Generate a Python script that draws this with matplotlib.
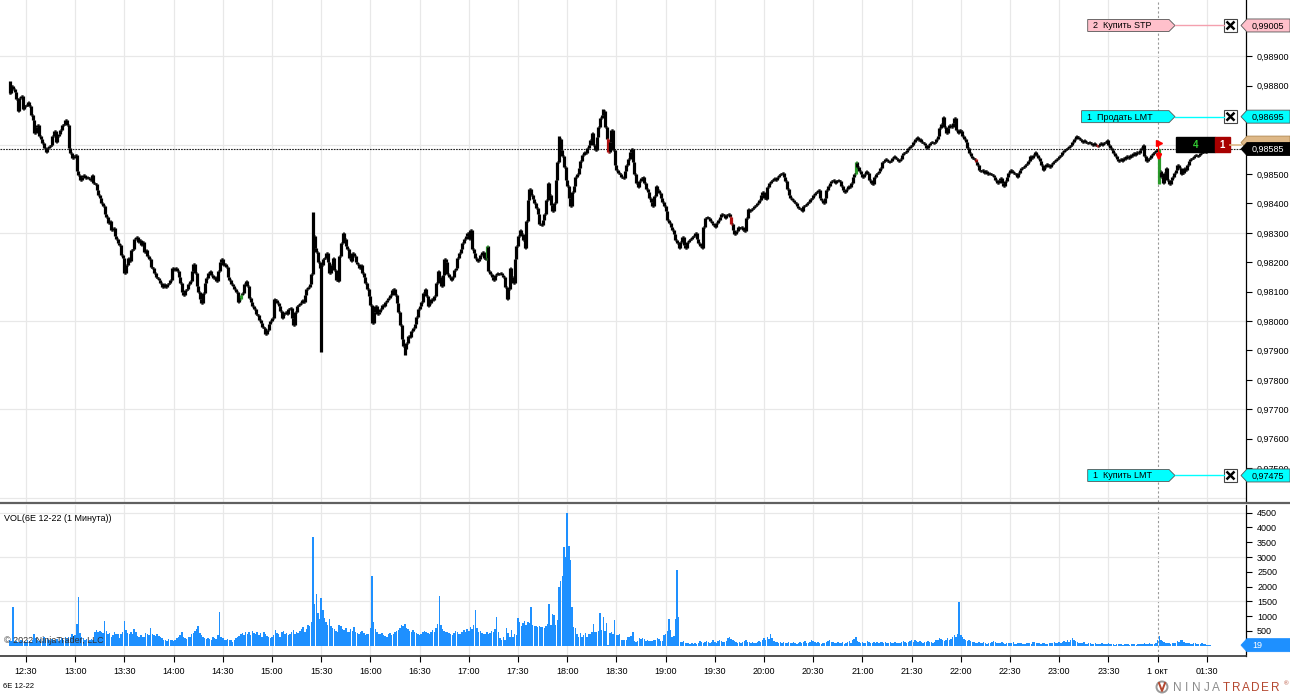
import numpy as np
import matplotlib
matplotlib.use("Agg")
import matplotlib.pyplot as plt
from matplotlib.patches import Polygon, Rectangle, Circle
from matplotlib.lines import Line2D

plt.rcParams['font.family'] = ['Liberation Sans', 'DejaVu Sans']

# 1-minute closes of 6E 12-22, in 1e-5 units, split by hour (first bar 12:20)
c_1220 = [98775, 98800, 98790, 98780, 98755, 98715, 98760, 98765, 98720, 98730,
          98735, 98745, 98730, 98700, 98685, 98640, 98660, 98665, 98630, 98620,
          98605, 98590, 98575, 98590, 98595, 98600, 98630, 98645, 98610, 98630,
          98635, 98650, 98665, 98670, 98685, 98665, 98590, 98570, 98555, 98560]
c_1300 = [98565, 98510, 98495, 98480, 98490, 98495, 98485, 98490, 98485, 98480,
          98495, 98470, 98465, 98445, 98430, 98420, 98400, 98390, 98365, 98355,
          98335, 98340, 98310, 98315, 98290, 98280, 98265, 98260, 98225, 98215,
          98165, 98190, 98215, 98205, 98240, 98245, 98280, 98285, 98270, 98275,
          98260, 98270, 98235, 98240, 98220, 98210, 98185, 98180, 98165, 98150,
          98145, 98140, 98130, 98115, 98125, 98115, 98125, 98130, 98140, 98180]
c_1400 = [98175, 98180, 98170, 98150, 98130, 98100, 98090, 98105, 98110, 98125,
          98135, 98170, 98195, 98165, 98120, 98100, 98075, 98060, 98095, 98130,
          98145, 98165, 98170, 98155, 98145, 98150, 98135, 98170, 98200, 98210,
          98190, 98195, 98185, 98150, 98140, 98125, 98120, 98110, 98100, 98065,
          98075, 98090, 98095, 98125, 98135, 98120, 98080, 98065, 98050, 98040,
          98025, 98020, 98005, 97995, 97980, 97975, 97955, 97970, 97990, 98000]
c_1500 = [98010, 98075, 98070, 98060, 98050, 98035, 98010, 98025, 98030, 98025,
          98040, 98045, 98010, 97985, 98030, 98050, 98055, 98060, 98070, 98065,
          98090, 98110, 98115, 98125, 98160, 98290, 98250, 98235, 98200, 98180,
          98190, 98210, 98215, 98230, 98200, 98165, 98190, 98215, 98175, 98140,
          98135, 98220, 98265, 98300, 98280, 98255, 98245, 98215, 98205, 98230,
          98220, 98200, 98195, 98180, 98190, 98165, 98150, 98130, 98110, 98085]
c_1600 = [98055, 97995, 98030, 98050, 98025, 98030, 98040, 98055, 98050, 98065,
          98070, 98080, 98090, 98105, 98110, 98090, 98060, 98030, 97985, 97940,
          97915, 97905, 97925, 97950, 97945, 97965, 97975, 97990, 98015, 98040,
          98050, 98065, 98095, 98110, 98085, 98050, 98060, 98075, 98070, 98085,
          98130, 98170, 98150, 98120, 98155, 98210, 98200, 98160, 98150, 98140,
          98150, 98175, 98180, 98215, 98230, 98245, 98265, 98280, 98290, 98300]
c_1700 = [98280, 98310, 98245, 98230, 98215, 98205, 98210, 98225, 98235, 98215,
          98210, 98255, 98170, 98160, 98150, 98140, 98155, 98165, 98160, 98165,
          98155, 98150, 98115, 98075, 98110, 98180, 98150, 98130, 98210, 98255,
          98290, 98310, 98295, 98275, 98250, 98340, 98410, 98450, 98430, 98415,
          98400, 98385, 98365, 98330, 98325, 98345, 98365, 98410, 98470, 98430,
          98395, 98375, 98400, 98480, 98540, 98620, 98580, 98560, 98525, 98480]
c_1800 = [98460, 98420, 98390, 98440, 98460, 98490, 98500, 98520, 98545, 98565,
          98575, 98570, 98590, 98600, 98615, 98640, 98600, 98580, 98625, 98660,
          98690, 98700, 98715, 98660, 98620, 98575, 98610, 98650, 98580, 98530,
          98515, 98505, 98500, 98490, 98485, 98510, 98530, 98550, 98575, 98585,
          98540, 98500, 98470, 98455, 98475, 98485, 98490, 98470, 98450, 98440,
          98420, 98405, 98390, 98425, 98460, 98445, 98435, 98420, 98405, 98390]
c_1900 = [98375, 98345, 98335, 98320, 98310, 98295, 98275, 98265, 98250, 98270,
          98285, 98260, 98250, 98270, 98275, 98280, 98285, 98290, 98300, 98280,
          98265, 98255, 98250, 98320, 98350, 98355, 98350, 98340, 98335, 98325,
          98320, 98335, 98345, 98355, 98365, 98360, 98350, 98360, 98365, 98355,
          98330, 98310, 98295, 98305, 98320, 98315, 98320, 98310, 98305, 98350,
          98380, 98375, 98380, 98385, 98390, 98395, 98400, 98410, 98430, 98440]
c_2000 = [98420, 98415, 98455, 98470, 98475, 98480, 98485, 98480, 98490, 98495,
          98500, 98505, 98490, 98475, 98450, 98430, 98420, 98410, 98405, 98400,
          98390, 98385, 98380, 98375, 98390, 98395, 98400, 98405, 98415, 98420,
          98430, 98435, 98440, 98445, 98420, 98410, 98400, 98420, 98445, 98460,
          98470, 98475, 98480, 98470, 98475, 98480, 98475, 98460, 98445, 98440,
          98450, 98460, 98455, 98470, 98490, 98500, 98540, 98525, 98510, 98500]
c_2100 = [98490, 98500, 98510, 98505, 98480, 98470, 98465, 98490, 98500, 98505,
          98510, 98520, 98540, 98545, 98550, 98545, 98540, 98545, 98555, 98560,
          98555, 98550, 98545, 98550, 98565, 98570, 98575, 98580, 98590, 98595,
          98600, 98610, 98620, 98625, 98615, 98620, 98610, 98605, 98600, 98590,
          98600, 98605, 98610, 98605, 98610, 98620, 98630, 98655, 98670, 98695,
          98660, 98640, 98655, 98665, 98660, 98675, 98690, 98650, 98640, 98650]
c_2200 = [98645, 98630, 98620, 98610, 98590, 98570, 98560, 98555, 98550, 98540,
          98530, 98515, 98510, 98515, 98505, 98510, 98500, 98505, 98500, 98495,
          98490, 98480, 98470, 98480, 98485, 98470, 98460, 98475, 98490, 98505,
          98515, 98510, 98505, 98500, 98490, 98505, 98515, 98520, 98525, 98530,
          98535, 98545, 98560, 98555, 98565, 98575, 98565, 98555, 98545, 98530,
          98515, 98525, 98535, 98530, 98525, 98535, 98540, 98545, 98550, 98555]
c_2300 = [98560, 98565, 98575, 98580, 98585, 98590, 98595, 98600, 98610, 98620,
          98630, 98625, 98620, 98615, 98610, 98615, 98610, 98605, 98610, 98605,
          98600, 98605, 98600, 98595, 98600, 98605, 98600, 98605, 98610, 98615,
          98600, 98590, 98580, 98570, 98560, 98550, 98545, 98550, 98545, 98555,
          98550, 98560, 98555, 98565, 98560, 98570, 98565, 98575, 98570, 98580,
          98590, 98600, 98560, 98545, 98550, 98555, 98565, 98570, 98575, 98580]
c_0100 = [98585, 98510, 98490, 98470, 98505, 98520, 98480, 98465, 98480, 98490,
          98505, 98515, 98530, 98520, 98500, 98505, 98520, 98515, 98530, 98545,
          98550, 98555, 98560, 98565, 98560, 98565, 98570, 98575, 98580, 98575,
          98580, 98585, 98585]

# 1-minute volume, same hourly split
v_1220 = [180, 150, 1320, 120, 160, 140, 130, 200, 170, 150, 120, 180, 160, 140, 210, 380, 250, 190, 160, 230,
          170, 300, 210, 260, 180, 150, 220, 190, 160, 240, 170, 200, 260, 210, 280, 230, 310, 290, 400, 330]
v_1300 = [350, 735, 1640, 420, 300, 250, 180, 220, 160, 200, 230, 190, 480, 520, 450, 500, 470, 430, 840, 500,
          380, 420, 300, 350, 470, 400, 380, 260, 410, 450, 820, 520, 420, 380, 450, 400, 560, 470, 330, 300,
          350, 280, 310, 420, 380, 350, 590, 400, 350, 320, 380, 340, 300, 260, 200, 180, 150, 220, 200, 180]
v_1400 = [160, 200, 250, 280, 350, 450, 300, 250, 220, 280, 300, 380, 420, 500, 560, 665, 420, 350, 280, 250,
          220, 260, 230, 200, 280, 250, 230, 350, 1140, 280, 250, 200, 180, 230, 210, 190, 120, 200, 250, 300,
          330, 380, 420, 360, 480, 400, 450, 360, 500, 420, 380, 460, 350, 420, 300, 480, 380, 320, 280, 250]
v_1500 = [280, 350, 530, 420, 380, 300, 450, 500, 380, 420, 350, 400, 480, 520, 380, 450, 420, 500, 560, 620,
          480, 550, 700, 650, 800, 3670, 1400, 1750, 1100, 900, 1600, 1200, 950, 800, 700, 900, 650, 600, 550, 500,
          480, 700, 650, 580, 520, 600, 480, 450, 550, 500, 620, 480, 420, 380, 450, 500, 420, 350, 400, 380]
v_1600 = [600, 2360, 800, 550, 450, 400, 380, 420, 350, 320, 300, 380, 420, 350, 400, 450, 500, 520, 600, 700,
          650, 750, 600, 550, 500, 450, 520, 480, 420, 380, 350, 400, 450, 500, 480, 420, 380, 450, 520, 480,
          600, 750, 1680, 700, 550, 500, 450, 480, 420, 380, 350, 420, 500, 450, 400, 380, 450, 520, 480, 550]
v_1700 = [500, 620, 550, 700, 1200, 600, 450, 500, 420, 380, 400, 450, 380, 420, 500, 480, 550, 970, 450,
          250, 200, 300, 200, 590, 420, 300, 540, 300, 400, 350, 935, 800, 650, 760, 850, 700, 810, 780, 1300,
          700, 680, 650, 640, 660, 620, 640, 590, 650, 720, 1410, 700, 1070, 1040, 700, 870, 1980, 2200, 2360, 3330,
          3010]
v_1800 = [4500, 3370, 2900, 1320, 640, 600, 400, 300, 420, 280, 350, 420, 300, 380, 400, 450, 720, 470, 450, 500,
          1090, 530, 960, 500, 780, 20, 420, 450, 400, 870, 360, 350, 380, 200, 190, 180, 200, 300, 280, 320,
          470, 160, 140, 150, 250, 230, 260, 240, 150, 190, 160, 170, 150, 180, 190, 250, 240, 170, 160, 360]
v_1900 = [380, 500, 890, 530, 300, 320, 890, 2560, 960, 140, 120, 150, 100, 90, 80, 70, 90, 60, 80, 70,
          90, 150, 120, 100, 130, 160, 110, 90, 140, 180, 120, 100, 150, 200, 170, 130, 110, 160, 250, 300,
          220, 180, 150, 120, 100, 130, 90, 110, 150, 200, 140, 110, 90, 120, 100, 80, 130, 150, 110, 180]
v_2000 = [250, 180, 300, 220, 380, 250, 160, 140, 120, 100, 110, 90, 130, 80, 100, 120, 90, 80, 110, 90,
          70, 90, 110, 80, 120, 150, 100, 90, 130, 200, 150, 120, 90, 110, 80, 70, 100, 90, 120, 150,
          180, 130, 110, 90, 100, 120, 80, 90, 110, 70, 90, 120, 150, 100, 180, 220, 280, 160, 120, 100]
v_2100 = [120, 100, 90, 150, 110, 80, 100, 130, 90, 110, 100, 140, 120, 90, 110, 100, 80, 120, 90, 100,
          110, 90, 80, 100, 120, 150, 110, 90, 130, 160, 180, 140, 200, 160, 120, 150, 110, 100, 130, 120,
          150, 110, 130, 100, 140, 180, 200, 250, 220, 180, 160, 200, 250, 180, 220, 280, 350, 300, 400, 1480]
v_2200 = [350, 280, 220, 180, 150, 200, 160, 130, 110, 100, 90, 120, 100, 80, 110, 90, 70, 100, 80, 120,
          150, 110, 90, 80, 100, 120, 90, 70, 80, 100, 90, 80, 110, 70, 60, 90, 80, 100, 70, 60,
          80, 100, 90, 70, 110, 130, 90, 80, 100, 70, 90, 80, 60, 70, 90, 100, 80, 120, 90, 100]
v_2300 = [110, 90, 130, 150, 120, 180, 140, 200, 250, 180, 150, 130, 100, 90, 80, 110, 70, 60, 80, 90,
          70, 60, 80, 50, 70, 60, 90, 70, 50, 60, 80, 60, 50, 70, 40, 60, 50, 70, 60, 40,
          50, 60, 70, 40, 50, 60, 50, 40, 60, 70, 50, 60, 80, 60, 70, 90, 60, 50, 70, 80]
v_0100 = [180, 320, 200, 150, 120, 90, 100, 80, 70, 90, 80, 100, 150, 120, 200, 180, 130, 90, 80, 100,
          70, 60, 90, 80, 70, 60, 50, 80, 60, 70, 40, 30, 19]

# long wicks beyond open/close
wick_high = {0: 98815, 185: 98370, 335: 98630, 362: 98720}
wick_low = {190: 97895, 241: 97885, 701: 98465}
# bars painted by the chart (up / down markers)
green_bars = [141, 291, 516, 701]
red_bars = [365, 440, 589, 663]

x_labels = ['12:30', '13:00', '13:30', '14:00', '14:30', '15:00', '15:30', '16:00', '16:30',
            '17:00', '17:30', '18:00', '18:30', '19:00', '19:30', '20:00', '20:30', '21:00',
            '21:30', '22:00', '22:30', '23:00', '23:30', '1 окт', '01:30']
first_label_bar = 10
session_break_bar = 700

last_price = 0.98585
avg_price = 0.98600
position_qty = '4'
orders = [(0.99005, '2  Купить STP', '#ffc0cb'),
          (0.98695, '1  Продать LMT', '#00ffff'),
          (0.97475, '1  Купить LMT', '#00ffff')]

close = np.array(c_1220 + c_1300 + c_1400 + c_1500 + c_1600 + c_1700 + c_1800 +
                 c_1900 + c_2000 + c_2100 + c_2200 + c_2300 + c_0100) / 1e5
volume = np.array(v_1220 + v_1300 + v_1400 + v_1500 + v_1600 + v_1700 + v_1800 +
                  v_1900 + v_2000 + v_2100 + v_2200 + v_2300 + v_0100)
n = len(close)
idx = np.arange(n)
opens = np.r_[close[0], close[:-1]]
high = np.maximum(opens, close)
low = np.minimum(opens, close)
for k, v in wick_high.items():
    high[k] = max(high[k], v / 1e5)
for k, v in wick_low.items():
    low[k] = min(low[k], v / 1e5)
colors = np.array(['black'] * n, dtype=object)
colors[green_bars] = '#2a9a2a'
colors[red_bars] = '#b01010'

W, H = 1290, 695
fig = plt.figure(figsize=(W / 100, H / 100), dpi=100)
fig.patch.set_facecolor('white')
ax_p = fig.add_axes([0, 1 - 502 / H, 1246 / W, 502 / H])
ax_v = fig.add_axes([0, 1 - 656 / H, 1246 / W, 151 / H])

xlim = (-5.85, 753.9)
grid_c = '#e8e8e8'
tick_pos = [first_label_bar + 30 * k for k in range(len(x_labels))]

# price panel
ax_p.set_xlim(*xlim)
ax_p.set_ylim(0.973848, 0.990916)
for t in tick_pos:
    if t == session_break_bar:
        ax_p.axvline(t, color='#999999', lw=0.8, ls=(0, (2, 2)), zorder=0)
    else:
        ax_p.axvline(t, color=grid_c, lw=0.9, zorder=0)
for g in np.arange(0.974, 0.9895, 0.003):
    ax_p.axhline(g, color=grid_c, lw=0.9, zorder=0)
ax_p.vlines(idx, low, high, colors=colors, lw=2.3, zorder=3)
ax_p.hlines(opens, idx - 0.5, idx, colors=colors, lw=2.0, zorder=3)
ax_p.hlines(close, idx, idx + 0.5, colors=colors, lw=2.0, zorder=3)
ax_p.axhline(last_price, color='#222222', lw=0.8, ls=(0, (1.5, 1)), zorder=2)

# execution markers at the session open
ax_p.plot([session_break_bar, session_break_bar], [0.98575, 0.98612], color='red', lw=0.8, zorder=4)
ax_p.plot(session_break_bar + 0.9, 0.98606, marker='>', color='red', ms=4, zorder=4)
ax_p.annotate('', xy=(session_break_bar + 0.8, 0.98535), xytext=(session_break_bar + 0.8, 0.98582),
              arrowprops=dict(arrowstyle='-|>', color='red', lw=1.8, mutation_scale=7), zorder=4)

# price scale: labels hidden under the order / position tags are left out
price_ticks = np.round(np.arange(0.975, 0.9895, 0.001), 3)
hidden = [0.986, 0.987]
ax_p.yaxis.tick_right()
ax_p.set_yticks(price_ticks)
ax_p.set_yticklabels(['' if v in hidden else f"{v:.5f}".replace('.', ',') for v in price_ticks])
ax_p.tick_params(axis='y', direction='out', length=4, width=0.8, labelsize=6.5, pad=4, colors='black')
ax_p.set_xticks([])
for s in ['left', 'top', 'bottom']:
    ax_p.spines[s].set_visible(False)
ax_p.spines['right'].set_linewidth(0.9)

# volume panel
ax_v.set_xlim(*xlim)
ax_v.set_ylim(-348, 4760)
for t in tick_pos:
    if t == session_break_bar:
        ax_v.axvline(t, color='#999999', lw=0.8, ls=(0, (2, 2)), zorder=0)
    else:
        ax_v.axvline(t, color=grid_c, lw=0.9, zorder=0)
for g in [1500, 3000, 4500]:
    ax_v.axhline(g, color=grid_c, lw=0.9, zorder=0)
ax_v.bar(idx, volume, width=0.9, color='#1e90ff', linewidth=0, zorder=2)
ax_v.yaxis.tick_right()
ax_v.set_yticks(np.arange(500, 4501, 500))
ax_v.tick_params(axis='y', direction='out', length=4, width=0.8, labelsize=6.5, pad=4)
ax_v.set_xticks(tick_pos)
ax_v.set_xticklabels(x_labels)
ax_v.tick_params(axis='x', direction='out', length=4, width=0.8, labelsize=6.5, pad=4, colors='black')
ax_v.spines['left'].set_visible(False)
ax_v.spines['top'].set_visible(False)
ax_v.spines['right'].set_linewidth(0.9)
ax_v.spines['bottom'].set_linewidth(1.2)
ax_v.spines['bottom'].set_color('#333333')
ax_v.text(0.003, 0.94, 'VOL(6E 12-22 (1 Минута))', fontsize=6.5, va='top', ha='left',
          transform=ax_v.transAxes, zorder=5)
ax_v.text(0.003, 30, '© 2022 NinjaTrader, LLC', fontsize=6.5, color='#333333', va='bottom', ha='left',
          transform=ax_v.get_yaxis_transform(), zorder=5)

# panel separator
fig.add_artist(Line2D([0, 1], [1 - 503 / H, 1 - 503 / H], color='#606060', lw=1.6))

# overlay in pixel coordinates for tags
ov = fig.add_axes([0, 0, 1, 1], zorder=10)
ov.set_xlim(0, W)
ov.set_ylim(H, 0)
ov.axis('off')
ov.patch.set_alpha(0)


def py(ax, v):
    return H - ax.transData.transform((0, v))[1]


def axis_tag(y, text, face, tcolor='black', edge='#555555'):
    pts = [(1241, y), (1247, y - 6.5), (1290, y - 6.5), (1290, y + 6.5), (1247, y + 6.5)]
    ov.add_patch(Polygon(pts, closed=True, facecolor=face, edgecolor=edge, lw=0.6))
    ov.text(1252, y + 0.5, text, color=tcolor, fontsize=6.5, va='center', ha='left')


for price, label, face in orders:
    y = py(ax_p, price)
    w = 6.1 * len(label) + 8
    x0 = 1175 - w
    pts = [(x0, y - 6), (1169, y - 6), (1175, y), (1169, y + 6), (x0, y + 6)]
    ov.add_patch(Polygon(pts, closed=True, facecolor=face, edgecolor='#555555', lw=0.6))
    ov.text(x0 + 5, y + 0.5, label, fontsize=6.5, va='center', ha='left')
    ov.plot([1175, 1224], [y, y], color=face if face != '#ffc0cb' else '#f4a0ae', lw=1)
    ov.add_patch(Rectangle((1224, y - 6.5), 13, 13, facecolor='white', edgecolor='#444444', lw=0.8))
    ov.plot([1226.5, 1234.5], [y - 4, y + 4], color='black', lw=1.8, solid_capstyle='butt')
    ov.plot([1226.5, 1234.5], [y + 4, y - 4], color='black', lw=1.8, solid_capstyle='butt')
    axis_tag(y, f"{price:.5f}".replace('.', ','), face)

# position box and average price tag (partly covered by the last price tag)
ya = py(ax_p, avg_price)
ov.plot([1230, 1241], [ya, ya], color='#deb887', lw=1.2)
pts = [(1241, ya - 2), (1247, ya - 8.5), (1290, ya - 8.5), (1290, ya + 4.5), (1247, ya + 4.5)]
ov.add_patch(Polygon(pts, closed=True, facecolor='#deb887', edgecolor='#b08850', lw=0.6))
ov.add_patch(Rectangle((1176, ya - 7.5), 39, 15, facecolor='black', edgecolor='black'))
ov.add_patch(Rectangle((1215, ya - 7.5), 15, 15, facecolor='#a80000', edgecolor='#a80000'))
ov.text(1195.5, ya + 0.5, position_qty, color='#33cc33', fontsize=7, ha='center', va='center', weight='bold')
ov.text(1222.5, ya + 0.5, '1', color='white', fontsize=7, ha='center', va='center', weight='bold')

axis_tag(py(ax_p, last_price), f"{last_price:.5f}".replace('.', ','), 'black', tcolor='white', edge='black')
axis_tag(py(ax_v, volume[-1]), str(volume[-1]), '#1e90ff', tcolor='white', edge='#1e90ff')

# footer
ov.text(3, 687, '6E 12-22', fontsize=5.5, va='center', ha='left')
ov.add_patch(Circle((1162, 687), 5.5, facecolor='white', edgecolor='#999999', lw=1.4))
ov.plot([1159, 1162, 1165], [683, 691, 683], color='#b4472f', lw=1.4)
for k, ch in enumerate('NINJATRADER'):
    ov.text(1177 + 9.8 * k, 688, ch, fontsize=8.5, ha='center', va='center',
            color='#8c8c8c' if k < 5 else '#b4472f')
ov.text(1286.5, 684, '®', fontsize=4.5, ha='center', va='center', color='#b4472f')

fig.savefig('out.png', dpi=100)
